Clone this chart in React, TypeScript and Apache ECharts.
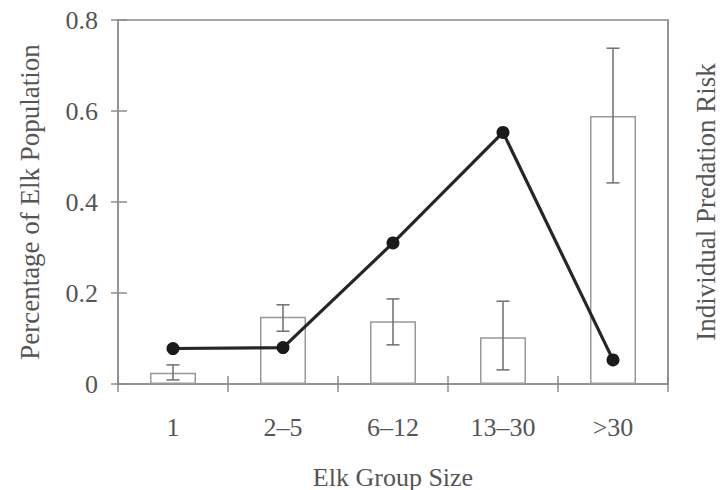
import React, { useEffect, useRef } from "react";
import * as echarts from "echarts";

const categories = ["1", "2–5", "6–12", "13–30", ">30"];
const populationPct = [0.025, 0.148, 0.138, 0.103, 0.589];
const errLow = [0.009, 0.116, 0.086, 0.031, 0.442];
const errHigh = [0.042, 0.174, 0.187, 0.182, 0.738];
const predationRisk = [0.078, 0.08, 0.31, 0.553, 0.053];
const yTicks = [0, 0.2, 0.4, 0.6, 0.8];

const FONT = "'Liberation Serif', 'Times New Roman', serif";
const AXIS = "#8c8c8c";
const TEXT = "#555555";

export default function App() {
  const ref = useRef<HTMLDivElement>(null);
  useEffect(() => {
    if (!ref.current) return;
    const chart = echarts.init(ref.current, undefined, { renderer: "svg" });
    const errData = categories.map((_, i) => [i, errLow[i], errHigh[i]]);
    chart.setOption({
      animation: false,
      backgroundColor: "#ffffff",
      grid: {
        left: 118,
        right: 58,
        top: 20,
        bottom: 106,
        outerBoundsMode: "none",
        containLabel: false,
        show: true,
        borderColor: AXIS,
        borderWidth: 1.5,
        backgroundColor: "transparent",
      },
      xAxis: [
        {
          type: "category",
          data: categories,
          position: "bottom",
          boundaryGap: true,
          axisLine: { show: true, lineStyle: { color: AXIS, width: 1.5 } },
          axisTick: { show: true, inside: false, length: 8, interval: 0, lineStyle: { color: AXIS, width: 1.5 } },
          axisLabel: { color: TEXT, fontFamily: FONT, fontSize: 26, margin: 30, interval: 0 },
          name: "Elk Group Size",
          nameLocation: "middle",
          nameGap: 80,
          nameTextStyle: { color: TEXT, fontFamily: FONT, fontSize: 26 },
          splitLine: { show: false },
        },
        {
          type: "category",
          data: categories,
          position: "bottom",
          boundaryGap: true,
          axisLine: { show: false },
          axisTick: { show: true, inside: true, length: 8, interval: 0, lineStyle: { color: AXIS, width: 1.5 } },
          axisLabel: { show: false },
          splitLine: { show: false },
        },
      ],
      yAxis: [
        {
          type: "value",
          min: 0,
          max: 0.8,
          interval: 0.2,
          position: "left",
          axisLine: { show: true, lineStyle: { color: AXIS, width: 1.5 } },
          axisTick: { show: true, inside: false, length: 7, lineStyle: { color: AXIS, width: 1.5 } },
          axisLabel: {
            color: TEXT,
            fontFamily: FONT,
            fontSize: 26,
            margin: 20,
            formatter: (v: number) => {
              const t = yTicks.find((x) => Math.abs(x - v) < 1e-9);
              if (t === undefined) return "";
              return t === 0 ? "0" : t.toFixed(1);
            },
          },
          splitLine: { show: false },
          name: "Percentage of Elk Population",
          nameLocation: "middle",
          nameRotate: 90,
          nameGap: 75,
          nameTextStyle: { color: TEXT, fontFamily: FONT, fontSize: 27 },
        },
        {
          type: "value",
          min: 0,
          max: 0.8,
          interval: 0.2,
          position: "right",
          axisLine: { show: true, lineStyle: { color: AXIS, width: 1.5 } },
          axisTick: { show: false },
          axisLabel: { show: false },
          splitLine: { show: false },
          name: "Individual Predation Risk",
          nameLocation: "middle",
          nameRotate: 90,
          nameGap: 24,
          nameTextStyle: { color: TEXT, fontFamily: FONT, fontSize: 27 },
        },
        {
          type: "value",
          min: 0,
          max: 0.8,
          interval: 0.2,
          position: "left",
          axisLine: { show: false },
          axisTick: { show: true, inside: true, length: 9, lineStyle: { color: AXIS, width: 1.5 } },
          axisLabel: { show: false },
          splitLine: { show: false },
        },
      ],
      series: [
        {
          type: "bar",
          data: populationPct,
          xAxisIndex: 0,
          yAxisIndex: 0,
          barWidth: 46,
          itemStyle: { color: "#ffffff", borderColor: "#999999", borderWidth: 1.5 },
          z: 2,
        },
        {
          type: "custom",
          xAxisIndex: 0,
          yAxisIndex: 0,
          data: errData,
          encode: { x: 0, y: [1, 2] },
          z: 3,
          renderItem: (params: any, api: any) => {
            const idx = api.value(0);
            const lo = api.coord([idx, api.value(1)]);
            const hi = api.coord([idx, api.value(2)]);
            const half = 6.5;
            const style = { stroke: "#6e6e6e", lineWidth: 1.5, fill: "none" };
            return {
              type: "group",
              children: [
                { type: "line", shape: { x1: lo[0], y1: lo[1], x2: hi[0], y2: hi[1] }, style },
                { type: "line", shape: { x1: hi[0] - half, y1: hi[1], x2: hi[0] + half, y2: hi[1] }, style },
                { type: "line", shape: { x1: lo[0] - half, y1: lo[1], x2: lo[0] + half, y2: lo[1] }, style },
              ],
            };
          },
        },
        {
          type: "line",
          data: predationRisk,
          xAxisIndex: 0,
          yAxisIndex: 1,
          symbol: "circle",
          symbolSize: 13,
          lineStyle: { color: "#262626", width: 3.2 },
          itemStyle: { color: "#1a1a1a" },
          z: 5,
        },
      ],
    });
    return () => chart.dispose();
  }, []);
  return <div ref={ref} style={{ width: 726, height: 490, position: "absolute", left: 0, top: 0 }} />;
}
